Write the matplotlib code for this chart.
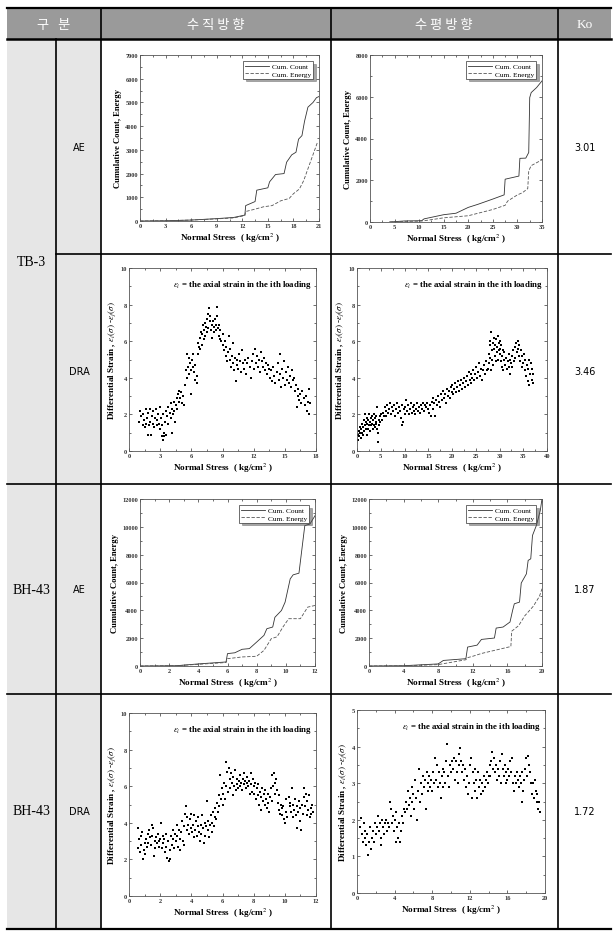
import matplotlib
matplotlib.use("Agg")
import matplotlib.pyplot as plt
from matplotlib.lines import Line2D
from matplotlib.patches import Rectangle
from matplotlib.ticker import MultipleLocator, AutoMinorLocator
import numpy as np

plt.rcParams['font.family'] = ['Liberation Serif', 'DejaVu Serif']
plt.rcParams['mathtext.fontset'] = 'stix'

W, H = 616, 937

# ---- table text ----
header = ["구   분", "수 직 방 향", "수 평 방 향", "Ko"]
site_labels = ["TB-3", "BH-43", "BH-43"]
method_labels = ["AE", "DRA", "AE", "DRA"]
ko_values = ["3.01", "3.46", "1.87", "1.72"]

# ---- AE cumulative curves (stress, value) ----
ae_v1_count_x = [0, 3, 6, 9, 11, 12.3, 12.4, 13.5, 13.7, 15.0, 15.2, 15.9, 16.9, 17.2, 17.8, 18.3, 18.6, 19.0, 19.3, 19.7, 20.3, 20.7, 21.0]
ae_v1_count_y = [0, 10, 40, 100, 150, 250, 650, 820, 1300, 1400, 1650, 1960, 2000, 2480, 2790, 2900, 3450, 3600, 4200, 4800, 5000, 5200, 5250]
ae_v1_energy_x = [0, 3, 6, 9, 11, 12.3, 12.4, 13.5, 14.5, 15.5, 16.5, 17.5, 18.0, 18.7, 19.2, 19.7, 20.3, 20.8]
ae_v1_energy_y = [0, 10, 40, 90, 130, 230, 400, 500, 600, 650, 850, 950, 1150, 1350, 1700, 2200, 2800, 3300]

ae_h1_count_x = [4, 7, 10, 10.5, 11, 15, 17.5, 20, 22, 25, 27.3, 27.5, 30.3, 30.5, 31.7, 32.3, 32.5, 32.8, 33.9, 35]
ae_h1_count_y = [0, 50, 60, 60, 150, 350, 420, 700, 850, 1100, 1300, 2050, 2200, 3050, 3060, 3330, 5960, 6200, 6440, 6760]
ae_h1_energy_x = [4, 7, 10, 11, 15, 20, 25, 27.5, 28, 30, 31, 32.1, 32.3, 32.8, 35]
ae_h1_energy_y = [0, 30, 40, 60, 200, 300, 600, 800, 1000, 1300, 1400, 1600, 2450, 2700, 2980]

ae_v2_count_x = [0, 2.5, 4, 5.9, 6.0, 6.5, 7.0, 7.5, 8.0, 8.5, 8.7, 9.1, 9.25, 9.7, 9.95, 10.3, 10.5, 10.9, 11.3, 11.65, 12.0]
ae_v2_count_y = [0, 20, 150, 290, 890, 950, 1200, 1250, 1720, 2200, 2680, 2800, 3500, 3990, 4590, 6260, 6550, 6670, 10090, 10200, 10800]
ae_v2_energy_x = [0, 2.5, 4, 5.9, 6.0, 7.0, 8.0, 8.5, 9.0, 9.4, 9.8, 10.2, 11.0, 11.5, 12.0]
ae_v2_energy_y = [0, 20, 120, 250, 525, 650, 700, 1120, 1960, 2100, 2800, 3400, 3400, 4230, 4350]

ae_h2_count_x = [0, 4, 8, 8.6, 11.2, 11.4, 12.5, 13.0, 14.5, 14.7, 15.5, 16.3, 16.6, 16.8, 17.4, 17.6, 18.2, 18.4, 18.7, 18.9, 19.35, 19.8, 20]
ae_h2_count_y = [0, 20, 150, 400, 525, 1360, 1500, 1910, 2010, 2725, 2800, 3160, 3990, 4470, 4590, 5960, 6625, 7590, 7700, 9380, 10100, 11170, 12000]
ae_h2_energy_x = [0, 4, 8, 11.2, 11.4, 12, 13, 16.4, 16.5, 17.3, 18.0, 19.0, 19.7, 20]
ae_h2_energy_y = [0, 10, 100, 450, 600, 700, 900, 1400, 2500, 2900, 3600, 4300, 5000, 5550]

# ---- DRA differential strain (stress, strain) ----
dra_v1 = [
    (1.0,1.6),(1.1,2.2),(1.2,1.9),(1.3,1.4),(1.35,2.0),(1.4,1.7),(1.5,1.3),(1.6,2.3),(1.65,1.5),(1.7,1.8),
    (1.8,0.9),(1.85,2.1),(1.9,1.4),(2.0,2.3),(2.05,1.6),(2.1,0.9),(2.2,1.9),(2.3,1.5),(2.35,2.2),(2.4,1.3),
    (2.5,1.8),(2.6,2.3),(2.65,1.4),(2.7,1.7),(2.8,2.0),(2.9,1.5),(3.0,2.4),(3.0,1.2),
    (3.1,1.8),(3.15,0.8),(3.2,1.4),(3.25,0.6),(3.3,2.0),(3.35,1.0),(3.4,0.8),(3.5,1.6),(3.55,2.2),(3.6,0.9),
    (3.7,1.9),(3.75,2.4),(3.8,1.5),(3.9,2.1),(4.0,2.6),(4.0,1.8),
    (4.1,2.3),(4.15,1.0),(4.2,2.0),(4.3,2.7),(4.35,2.2),(4.4,1.6),(4.5,2.5),(4.6,2.9),(4.65,2.3),(4.7,3.1),
    (4.8,2.7),(4.85,3.3),(4.9,2.9),(5.0,3.2),(5.1,2.6),(5.2,3.0),(5.25,2.5),
    (5.4,3.6),(5.5,4.4),(5.55,5.3),(5.6,4.0),(5.7,4.6),(5.75,5.1),(5.8,4.2),(5.9,4.8),(6.0,3.1),(6.0,4.4),
    (6.1,5.0),(6.15,4.6),(6.2,5.3),(6.3,4.3),(6.35,3.9),(6.4,4.7),(6.5,3.7),(6.5,4.1),
    (6.6,5.9),(6.65,5.3),(6.7,5.7),(6.8,6.2),(6.85,5.6),(6.9,6.5),(7.0,5.8),(7.05,6.4),(7.1,6.9),(7.2,6.1),
    (7.25,6.6),(7.3,7.0),(7.35,6.3),(7.4,6.8),(7.5,7.2),(7.5,6.5),
    (7.6,7.5),(7.65,6.7),(7.7,7.8),(7.75,7.1),(7.8,7.4),(7.9,6.6),(7.95,6.2),(8.0,6.9),(8.1,7.1),(8.15,6.5),
    (8.2,6.8),(8.3,7.2),(8.35,6.6),(8.4,6.9),(8.5,7.85),(8.5,7.4),(8.6,6.7),(8.65,6.3),(8.7,6.9),(8.8,6.1),(8.8,6.6),
    (8.9,6.0),(9.0,5.8),(9.05,6.4),(9.1,5.5),(9.2,6.0),(9.3,5.2),(9.35,5.7),(9.4,4.9),(9.5,5.4),(9.6,6.3),
    (9.7,5.0),(9.75,5.6),(9.8,4.6),(9.9,5.2),(10.0,5.9),(10.0,4.8),
    (10.1,4.4),(10.2,5.1),(10.3,3.8),(10.35,4.7),(10.4,5.0),(10.5,4.5),(10.6,5.3),(10.7,4.9),(10.8,4.3),(10.9,5.5),
    (11.0,4.8),(11.1,4.5),(11.2,5.0),(11.3,4.2),(11.4,4.8),(11.5,5.1),(11.6,4.6),(11.7,4.0),(11.8,4.9),(11.9,5.3),(12.0,4.5),
    (12.1,5.6),(12.2,4.8),(12.3,5.2),(12.4,4.6),(12.5,5.0),(12.6,4.3),(12.7,5.4),(12.8,4.9),(12.9,4.6),(13.0,5.1),
    (13.1,4.4),(13.2,4.8),(13.3,4.2),(13.4,4.7),(13.5,4.5),
    (13.6,4.0),(13.7,4.4),(13.8,3.8),(13.9,4.6),(14.0,4.1),(14.1,3.7),(14.2,4.3),(14.3,4.8),(14.4,3.9),(14.5,5.3),
    (14.55,4.2),(14.6,3.5),(14.7,4.5),(14.8,4.0),(14.9,4.9),(15.0,3.6),
    (15.1,4.3),(15.2,3.9),(15.3,4.6),(15.4,3.7),(15.5,4.1),(15.6,3.5),(15.7,4.4),(15.8,3.9),(15.9,4.0),(16.0,3.3),
    (16.1,3.6),(16.2,2.4),(16.25,3.0),(16.3,3.4),(16.4,2.8),(16.5,3.1),(16.6,2.6),(16.7,3.3),(16.8,2.9),(16.9,2.5),
    (17.0,3.0),(17.1,2.2),(17.2,2.7),(17.3,3.4),(17.35,2.0),(17.4,2.6),
]

dra_h1 = [
    (0.2,0.9),(0.3,0.6),(0.4,1.1),(0.5,0.8),(0.6,1.0),(0.7,1.3),(0.8,0.7),(0.9,1.2),(1.0,1.0),(1.1,1.5),
    (1.2,0.9),(1.3,1.3),(1.4,1.7),(1.5,1.1),(1.6,1.4),(1.7,2.0),(1.8,1.2),(1.9,1.6),(2.0,0.9),
    (2.1,1.5),(2.2,1.8),(2.3,1.2),(2.4,1.7),(2.5,1.4),(2.6,2.0),(2.7,1.6),(2.8,1.1),(2.9,1.8),(3.0,1.4),
    (3.1,1.9),(3.2,1.5),(3.3,1.2),(3.4,1.7),(3.5,2.0),(3.6,1.4),(3.7,1.8),(3.8,1.3),(3.9,1.6),(4.0,1.9),
    (4.1,1.5),(4.2,1.2),(4.3,2.4),(4.4,1.0),(4.5,0.5),(4.6,1.7),(4.7,1.4),(4.8,1.9),(4.9,1.6),(5.0,2.0),
    (5.2,1.7),(5.4,2.1),(5.6,1.9),(5.8,2.4),(6.0,2.2),(6.2,1.9),(6.4,2.5),(6.6,2.1),(6.8,2.3),(7.0,2.6),
    (7.2,2.0),(7.4,2.4),(7.6,2.2),(7.8,2.5),(8.0,1.9),(8.2,2.3),(8.4,2.6),(8.6,2.1),(8.8,2.4),(9.0,2.2),
    (9.2,1.8),(9.4,2.5),(9.5,1.4),(9.6,1.6),(9.8,2.3),(10.0,2.0),
    (10.2,2.4),(10.3,2.8),(10.5,2.2),(10.7,2.5),(10.9,2.0),(11.1,2.3),(11.3,2.6),(11.5,2.1),(11.7,2.4),(11.9,2.2),
    (12.1,2.5),(12.3,2.0),(12.5,2.3),(12.7,2.6),(12.9,2.2),(13.1,2.4),(13.3,2.1),(13.5,2.5),(13.7,2.3),(13.9,2.6),
    (14.1,2.2),(14.3,2.5),(14.5,2.4),(14.7,2.6),(14.9,2.3),
    (15.1,2.1),(15.3,2.5),(15.5,1.9),(15.7,2.7),(15.9,2.3),(16.1,2.9),(16.3,2.6),(16.5,1.9),(16.7,2.8),(16.9,2.5),
    (17.1,3.0),(17.3,2.7),(17.5,2.4),(17.7,3.1),(17.9,2.8),(18.1,3.3),(18.3,2.9),(18.5,3.1),(18.7,2.6),(18.9,3.4),
    (19.1,3.0),(19.3,3.3),(19.5,2.9),(19.7,3.5),(19.9,3.2),
    (20.1,3.6),(20.3,3.1),(20.5,3.4),(20.7,3.7),(20.9,3.2),(21.1,3.5),(21.3,3.8),(21.5,3.3),(21.7,3.6),(21.9,3.9),
    (22.1,3.4),(22.3,3.7),(22.5,4.0),(22.7,3.5),(22.9,3.8),(23.1,4.1),(23.3,3.6),(23.5,4.3),(23.7,3.9),(23.9,4.2),
    (24.1,3.7),(24.3,4.0),(24.5,4.4),(24.7,3.9),(24.9,4.2),
    (25.1,4.6),(25.3,4.0),(25.5,4.3),(25.7,4.8),(25.9,4.1),(26.1,4.5),(26.3,3.9),(26.5,4.4),(26.7,4.7),(26.9,4.2),
    (27.1,4.9),(27.3,4.4),
    (27.6,4.5),(27.7,5.3),(27.8,4.8),(27.9,5.8),(28.0,5.1),(28.1,6.0),(28.2,4.4),(28.3,6.5),(28.4,5.5),(28.5,5.0),
    (28.6,5.9),(28.7,4.7),(28.8,5.6),(28.9,6.2),(29.0,5.2),(29.1,5.8),(29.2,4.9),(29.3,6.1),(29.4,5.4),(29.5,5.7),
    (29.6,5.0),(29.7,6.3),(29.8,5.5),(29.9,5.9),(30.0,5.3),
    (30.1,6.0),(30.2,5.6),(30.3,4.9),(30.4,5.8),(30.5,5.2),(30.6,4.6),(30.7,5.5),(30.8,4.4),(30.9,5.0),(31.0,5.4),
    (31.2,4.7),(31.4,5.1),(31.5,4.5),(31.7,4.9),(31.9,5.3),
    (32.1,4.6),(32.2,5.0),(32.3,4.2),(32.4,4.8),(32.6,5.2),(32.7,4.6),(32.9,5.5),(33.0,4.9),(33.2,5.7),(33.3,5.1),
    (33.5,5.9),(33.6,5.4),(33.8,6.0),(33.9,5.6),(34.1,5.2),(34.2,5.8),(34.4,4.9),(34.5,5.5),(34.7,4.6),(34.8,5.2),(35.0,4.8),
    (35.1,5.3),(35.3,4.4),(35.4,5.0),(35.6,4.1),(35.7,4.7),(35.9,3.8),(36.0,4.5),(36.2,3.6),(36.3,5.0),(36.5,4.2),
    (36.6,4.8),(36.8,3.9),(36.9,4.5),(37.0,3.7),(37.1,4.2),
]

dra_v2 = [
    (0.55,3.7),(0.6,2.6),(0.65,3.1),(0.7,2.4),(0.75,3.3),(0.8,2.8),(0.85,3.5),(0.9,2.0),(0.95,2.5),(1.0,2.9),
    (1.05,2.3),(1.1,3.1),(1.15,2.7),(1.2,3.4),(1.25,2.9),(1.3,3.6),(1.35,3.2),(1.4,2.8),(1.45,3.9),(1.5,3.3),
    (1.55,3.7),(1.6,2.2),(1.65,3.0),(1.7,2.6),(1.75,3.2),(1.8,2.9),(1.85,3.4),(1.9,3.0),(1.95,2.7),(2.0,3.1),
    (2.05,4.0),(2.1,2.6),(2.15,3.3),(2.2,2.9),(2.25,3.1),(2.3,2.4),(2.35,3.4),(2.4,2.7),(2.45,2.1),(2.5,3.0),
    (2.55,1.9),(2.6,2.5),(2.65,2.0),(2.7,3.3),(2.75,2.8),(2.8,3.6),(2.85,3.1),(2.9,2.6),(2.95,3.4),(3.0,3.0),
    (3.05,3.9),(3.1,3.3),(3.15,2.7),(3.2,3.6),(3.25,3.1),(3.3,2.5),(3.35,3.5),(3.4,4.1),(3.45,3.0),(3.5,3.8),
    (3.55,2.8),(3.6,4.5),(3.65,4.9),(3.7,3.6),(3.75,4.3),(3.8,3.9),(3.85,3.4),(3.9,4.2),(3.95,3.7),(4.0,4.5),
    (4.05,3.5),(4.1,3.9),(4.15,3.2),(4.2,4.4),(4.25,3.6),(4.3,4.1),(4.35,3.3),(4.4,3.8),(4.45,4.3),(4.5,3.5),
    (4.55,3.0),(4.6,3.9),(4.65,3.4),(4.7,4.4),(4.75,3.7),(4.8,2.9),(4.85,4.0),(4.9,3.3),(4.95,3.8),(5.0,5.2),
    (5.05,3.6),(5.1,4.1),(5.15,3.2),(5.2,3.9),(5.25,4.4),(5.3,3.5),(5.35,4.0),(5.4,4.6),(5.45,3.8),(5.5,4.3),
    (5.55,4.8),(5.6,4.2),(5.65,5.1),(5.7,4.6),(5.75,5.5),(5.8,4.9),(5.85,6.6),(5.9,5.3),(5.95,5.9),(6.0,5.0),
    (6.05,5.6),(6.1,6.2),(6.15,5.3),(6.2,7.3),(6.25,6.0),(6.3,6.8),(6.35,5.7),(6.4,7.0),(6.45,6.4),(6.5,5.9),
    (6.55,6.7),(6.6,6.2),(6.65,5.5),(6.7,6.5),(6.75,6.0),(6.8,6.9),(6.85,5.8),(6.9,6.4),(6.95,6.1),(7.0,5.9),
    (7.05,6.3),(7.1,6.0),(7.15,6.6),(7.2,6.2),(7.25,5.8),(7.3,6.4),(7.35,6.1),(7.4,6.7),(7.45,6.3),(7.5,5.9),
    (7.55,6.2),(7.6,6.5),(7.65,6.0),(7.7,6.3),(7.75,5.6),(7.8,6.7),(7.85,6.1),(7.9,5.7),(7.95,6.4),(8.0,6.0),
    (8.05,5.6),(8.1,6.2),(8.15,5.3),(8.2,5.9),(8.25,5.5),(8.3,6.1),(8.35,5.0),(8.4,5.7),(8.45,4.7),(8.5,5.4),
    (8.55,5.9),(8.6,5.2),(8.65,5.6),(8.7,5.0),(8.75,5.8),(8.8,5.3),(8.85,4.8),(8.9,5.6),(8.95,5.1),(9.0,4.6),
    (9.05,5.4),(9.1,5.9),(9.15,5.2),(9.2,6.6),(9.25,6.0),(9.3,6.7),(9.35,6.2),(9.4,5.6),(9.45,6.4),(9.5,5.8),
    (9.55,5.1),(9.6,4.7),(9.65,5.5),(9.7,4.5),(9.75,5.0),(9.8,4.8),(9.85,4.4),(9.9,4.9),(9.95,4.2),(10.0,4.0),
    (10.05,4.6),(10.1,5.3),(10.15,4.3),
    (10.25,5.4),(10.3,4.9),(10.35,5.1),(10.4,4.6),(10.45,5.9),(10.5,4.3),(10.55,5.0),(10.6,4.7),(10.65,5.3),(10.7,4.4),
    (10.75,4.9),(10.8,3.7),(10.85,4.6),(10.9,5.2),(10.95,4.1),(11.0,4.8),(11.05,3.6),(11.1,5.0),(11.15,4.5),(11.2,5.9),
    (11.25,5.4),(11.3,4.9),(11.35,5.6),(11.4,4.4),(11.45,5.2),(11.5,4.7),(11.55,5.5),(11.6,4.3),(11.65,4.8),(11.7,4.5),
    (11.75,5.0),(11.8,4.6),
]

dra_h2 = [
    (0.3,1.8),(0.4,2.05),(0.5,1.6),(0.6,1.4),(0.7,1.9),(0.8,1.5),(0.9,1.7),(1.0,1.3),
    (1.1,1.6),(1.2,1.05),(1.3,1.4),(1.4,1.8),(1.5,1.2),(1.6,1.5),(1.7,1.7),(1.8,1.4),(1.9,1.9),(2.0,1.6),
    (2.1,1.8),(2.2,2.1),(2.3,1.7),(2.4,1.9),(2.5,1.5),(2.6,1.3),(2.7,2.0),(2.8,1.8),(2.9,1.6),(3.0,1.9),
    (3.1,2.0),(3.2,1.7),(3.3,1.9),(3.4,1.8),(3.5,2.5),
    (3.6,2.3),(3.7,1.9),(3.8,2.1),(3.9,1.7),(4.0,2.0),(4.1,2.2),(4.2,1.4),(4.3,1.8),(4.4,1.5),(4.5,1.9),
    (4.6,1.4),(4.7,1.7),(4.8,2.1),(4.9,1.9),(5.0,2.3),
    (5.1,2.2),(5.2,2.5),(5.3,2.3),(5.4,2.8),(5.5,2.4),(5.6,2.6),(5.7,2.1),(5.8,2.9),(5.9,2.5),(6.0,2.7),
    (6.1,2.3),(6.2,3.1),(6.3,2.6),(6.4,2.0),(6.5,2.8),(6.6,3.4),(6.7,2.5),(6.8,3.0),(6.9,2.7),(7.0,3.2),
    (7.1,2.9),(7.2,3.1),(7.3,2.3),(7.4,3.3),(7.5,2.8),(7.6,3.0),(7.7,3.2),(7.8,2.9),(7.9,3.1),(8.0,2.8),
    (8.1,3.3),(8.2,3.0),(8.3,3.7),(8.4,3.1),(8.5,3.5),(8.6,2.9),(8.7,3.3),(8.8,3.0),(8.9,2.6),(9.0,3.2),
    (9.1,3.4),(9.2,2.9),(9.3,3.3),(9.4,3.0),(9.5,3.6),(9.6,4.07),(9.7,3.2),(9.8,2.9),(9.9,3.5),(10.0,3.3),
    (10.1,3.6),(10.2,3.4),(10.3,3.7),(10.4,3.1),(10.5,3.6),(10.6,3.3),(10.7,3.0),(10.8,3.5),(10.9,3.8),(11.0,3.95),
    (11.1,3.6),(11.2,3.3),(11.3,3.5),(11.4,3.1),(11.5,3.4),(11.6,2.9),(11.7,3.2),(11.8,2.7),(11.9,3.0),(12.0,3.5),
    (12.1,3.7),(12.2,2.6),(12.3,3.3),(12.4,3.0),(12.5,3.4),(12.6,2.8),(12.7,3.1),(12.8,2.6),(12.9,3.3),(13.0,2.9),
    (13.1,3.1),(13.2,2.7),(13.3,3.0),(13.4,2.8),(13.5,3.2),(13.6,2.9),(13.7,3.1),(13.8,3.3),(13.9,3.0),(14.0,3.2),
    (14.1,3.5),(14.2,3.2),(14.3,3.6),(14.4,3.85),(14.5,3.4),(14.6,3.7),(14.7,3.3),(14.8,3.5),(14.9,3.1),(15.0,3.4),
    (15.1,3.2),(15.2,3.6),(15.3,3.0),(15.4,3.8),(15.5,3.4),(15.6,3.2),(15.7,3.5),(15.8,3.0),(15.9,3.3),(16.0,3.1),
    (16.1,3.4),(16.2,3.2),(16.3,3.6),(16.4,3.3),(16.5,3.7),(16.6,3.0),(16.7,2.8),(16.8,3.2),(16.9,3.0),(17.0,3.3),
    (17.1,3.1),(17.2,2.9),(17.3,3.2),(17.4,3.0),(17.5,3.3),
    (17.6,2.5),(17.7,2.8),(17.8,3.1),(17.9,3.4),(18.0,3.7),(18.1,3.2),(18.2,3.75),(18.3,3.5),(18.4,3.3),(18.5,3.0),
    (18.6,2.7),(18.7,3.0),(18.8,2.6),(18.9,3.1),(19.0,2.8),(19.1,2.5),(19.2,2.7),(19.3,2.3),(19.4,2.5),(19.5,2.2),
]


def fx(x):
    return x / W


def fy(y):
    return 1 - y / H


fig = plt.figure(figsize=(W / 100, H / 100), dpi=100)


def hline(y, x0, x1, lw=1.2):
    fig.add_artist(Line2D([fx(x0), fx(x1)], [fy(y), fy(y)], color='black', lw=lw))


def vline(x, y0, y1, lw=1.2):
    fig.add_artist(Line2D([fx(x), fx(x)], [fy(y0), fy(y1)], color='black', lw=lw))


def rect(x0, y0, x1, y1, color):
    fig.add_artist(Rectangle((fx(x0), fy(y1)), fx(x1) - fx(x0), fy(y0) - fy(y1),
                             facecolor=color, edgecolor='none', zorder=0))


# backgrounds
rect(7, 9, 611, 40, '#9a9a9a')
rect(7, 40, 101, 930, '#e6e6e6')

# table lines
hline(9, 7, 611, lw=1.6)
hline(40, 7, 611, lw=1.8)
hline(255, 56, 611)
hline(485, 7, 611)
hline(695, 7, 611)
hline(930, 7, 611, lw=1.6)
vline(56, 40, 930)
for xv in [101, 331, 558]:
    vline(xv, 9, 930)

# header text
kr = ['Noto Sans CJK KR', 'DejaVu Sans']
for txt, xc in zip(header, [54, 216, 444, 585]):
    fam = kr if txt != "Ko" else ['Liberation Serif']
    fig.text(fx(xc), fy(25), txt, color='white', fontsize=9.5, family=fam,
             ha='center', va='center')

# row labels
fig.text(fx(31), fy(263), site_labels[0], fontsize=10, ha='center', va='center')
fig.text(fx(31), fy(590), site_labels[1], fontsize=10, ha='center', va='center')
fig.text(fx(31), fy(812), site_labels[2], fontsize=10, ha='center', va='center')
for lab, ko, yc in zip(method_labels, ko_values, [148, 372, 590, 812]):
    fig.text(fx(79), fy(yc), lab, fontsize=7, family='DejaVu Sans', ha='center', va='center')
    fig.text(fx(585), fy(yc), ko, fontsize=7, family='DejaVu Sans', ha='center', va='center')


def make_ax(x0, y0, x1, y1, xmax, xstep, ymax, ystep):
    ax = fig.add_axes([fx(x0), fy(y1), fx(x1) - fx(x0), fy(y0) - fy(y1)])
    ax.set_xlim(0, xmax)
    ax.set_ylim(0, ymax)
    ax.xaxis.set_major_locator(MultipleLocator(xstep))
    ax.yaxis.set_major_locator(MultipleLocator(ystep))
    ax.xaxis.set_minor_locator(AutoMinorLocator(2))
    ax.yaxis.set_minor_locator(AutoMinorLocator(2))
    ax.tick_params(which='both', direction='in', top=True, right=True, width=0.5,
                   labelsize=4.6, pad=1.5, colors='#333333')
    ax.tick_params(which='major', length=2.2)
    ax.tick_params(which='minor', length=1.2)
    for lab in ax.get_xticklabels() + ax.get_yticklabels():
        lab.set_fontweight('bold')
    for s in ax.spines.values():
        s.set_linewidth(0.6)
        s.set_color('#555555')
    ax.set_xlabel('Normal Stress  ( kg/cm$^2$ )', fontsize=6.6, fontweight='bold', labelpad=2)
    return ax


def ae_panel(ax, cx, cy, ex, ey):
    ax.plot(cx, cy, color='#333333', lw=0.6, label='Cum. Count')
    ax.plot(ex, ey, color='#555555', lw=0.6, ls=(0, (4, 2)), label='Cum. Energy')
    ax.set_ylabel('Cumulative Count, Energy', fontsize=6.2, fontweight='bold', labelpad=2)
    leg = ax.legend(loc='upper right', fontsize=5.3, frameon=True, fancybox=False, shadow=True,
                    handlelength=3.2, borderpad=0.3, labelspacing=0.15, handletextpad=0.4,
                    borderaxespad=0.8)
    leg.get_frame().set_edgecolor('#333333')
    leg.get_frame().set_linewidth(0.5)


def dra_panel(ax, pts):
    xs = [p[0] for p in pts]
    ys = [p[1] for p in pts]
    ax.plot(xs, ys, ls='none', marker='s', markersize=1.5, color='black', markeredgewidth=0)
    ax.set_ylabel(r'Differential Strain , $\varepsilon_i(\sigma)$ -$\varepsilon_j(\sigma)$',
                  fontsize=6.6, fontweight='bold', labelpad=2)
    ax.text(0.98, 0.91, r'$\varepsilon_i$ = the axial strain in the ith loading',
            transform=ax.transAxes, ha='right', va='center', fontsize=6.3, fontweight='bold')


ax1 = make_ax(140, 56, 319, 222, 21, 3, 7000, 1000)
ae_panel(ax1, ae_v1_count_x, ae_v1_count_y, ae_v1_energy_x, ae_v1_energy_y)

ax2 = make_ax(370, 56, 542, 223, 35, 5, 8000, 2000)
ae_panel(ax2, ae_h1_count_x, ae_h1_count_y, ae_h1_energy_x, ae_h1_energy_y)

ax3 = make_ax(129, 269, 316, 452, 18, 3, 10, 2)
dra_panel(ax3, dra_v1)

ax4 = make_ax(357, 269, 547, 452, 40, 5, 10, 2)
dra_panel(ax4, dra_h1)

ax5 = make_ax(140, 500, 315, 667, 12, 2, 12000, 2000)
ae_panel(ax5, ae_v2_count_x, ae_v2_count_y, ae_v2_energy_x, ae_v2_energy_y)

ax6 = make_ax(369, 500, 542, 667, 20, 4, 12000, 2000)
ae_panel(ax6, ae_h2_count_x, ae_h2_count_y, ae_h2_energy_x, ae_h2_energy_y)

ax7 = make_ax(129, 714, 316, 897, 12, 2, 10, 2)
dra_panel(ax7, dra_v2)

ax8 = make_ax(357, 711, 545, 894, 20, 4, 5, 1)
dra_panel(ax8, dra_h2)

fig.savefig('out.png', dpi=100)
